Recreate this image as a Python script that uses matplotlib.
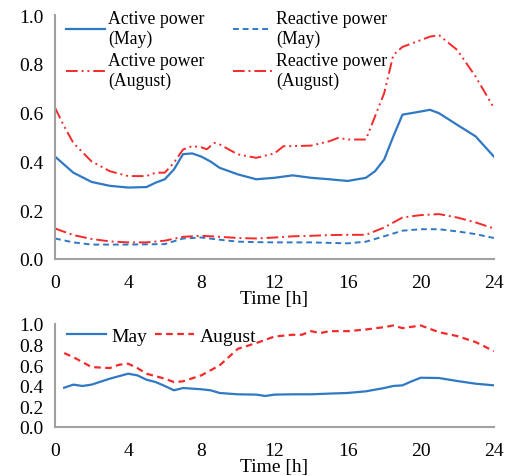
import matplotlib.pyplot as plt

plt.rcParams['font.family'] = ['Liberation Serif', 'DejaVu Serif']
plt.rcParams['font.size'] = 11.5

BLUE = '#2f78c4'
RED = '#f42a2a'

# top panel: active / reactive power
t_am = [0, 1, 2, 3, 4, 5, 5.5, 6, 6.5, 7, 7.5, 8, 8.5, 9, 10, 11, 12, 13, 14, 15, 16,
        17, 17.5, 18, 18.5, 19, 20, 20.5, 21, 22, 23, 24]
p_may = [0.42, 0.354, 0.316, 0.30, 0.293, 0.295, 0.313, 0.327, 0.367, 0.43, 0.433, 0.42,
         0.40, 0.374, 0.347, 0.327, 0.333, 0.343, 0.333, 0.327, 0.32, 0.333, 0.36, 0.408,
         0.503, 0.592, 0.605, 0.612, 0.598, 0.55, 0.503, 0.42]

t_aa = [0, 0.5, 1, 2, 3, 4, 5, 5.5, 6, 6.5, 7, 7.5, 8, 8.3, 8.7, 9, 10, 11, 12, 12.5, 13,
        14, 15, 15.5, 16, 17, 17.5, 18, 18.5, 19, 20, 20.5, 21, 22, 23, 24]
p_aug = [0.62, 0.544, 0.476, 0.40, 0.36, 0.34, 0.34, 0.354, 0.354, 0.395, 0.449, 0.463,
         0.458, 0.45, 0.476, 0.47, 0.429, 0.415, 0.433, 0.463, 0.463, 0.465, 0.483, 0.497,
         0.49, 0.49, 0.585, 0.68, 0.837, 0.87, 0.898, 0.912, 0.918, 0.857, 0.748, 0.62]

t_r = [0, 1, 2, 3, 4, 5, 6, 7, 8, 9, 10, 11, 12, 13, 14, 15, 16, 17, 18, 19, 20, 21, 22, 23, 24]
q_may = [0.084, 0.068, 0.059, 0.059, 0.059, 0.060, 0.061, 0.084, 0.088, 0.079, 0.071, 0.069,
         0.068, 0.068, 0.068, 0.066, 0.064, 0.071, 0.093, 0.116, 0.122, 0.122, 0.113, 0.102, 0.086]
q_aug = [0.125, 0.098, 0.082, 0.072, 0.068, 0.068, 0.075, 0.091, 0.095, 0.091, 0.086, 0.084,
         0.088, 0.093, 0.095, 0.098, 0.099, 0.099, 0.129, 0.17, 0.18, 0.184, 0.17, 0.15, 0.125]

# bottom panel
t_b = [0.5, 1, 1.5, 2, 3, 4, 4.5, 5, 5.5, 6, 6.5, 7, 8, 8.5, 9, 10, 11, 11.5, 12, 13, 14,
       15, 16, 17, 18, 18.5, 19, 19.5, 20, 21, 22, 23, 24]
b_may = [0.38, 0.41, 0.397, 0.41, 0.468, 0.516, 0.50, 0.458, 0.435, 0.397, 0.355, 0.377,
         0.365, 0.355, 0.329, 0.316, 0.313, 0.30, 0.313, 0.316, 0.316, 0.323, 0.329, 0.345,
         0.377, 0.397, 0.403, 0.442, 0.477, 0.474, 0.445, 0.419, 0.403]
t_b2 = [0.5, 1, 2, 3, 3.5, 4, 4.5, 5, 6, 6.5, 7, 8, 9, 10, 11, 12, 13, 13.5, 14, 14.5, 15,
        16, 17, 18, 18.5, 19, 20, 21, 22, 23, 24]
b_aug = [0.716, 0.677, 0.58, 0.571, 0.603, 0.613, 0.571, 0.516, 0.468, 0.435, 0.442, 0.50,
         0.597, 0.758, 0.813, 0.877, 0.894, 0.894, 0.929, 0.91, 0.929, 0.929, 0.945, 0.968,
         0.984, 0.958, 0.984, 0.919, 0.881, 0.823, 0.735]

fig = plt.figure(figsize=(5.05, 4.77), dpi=100)
ax1 = fig.add_axes([0.109, 0.455, 0.869, 0.511])
ax2 = fig.add_axes([0.109, 0.103, 0.869, 0.216])

# order chosen so the 2-column legend reads row by row like the original
ax1.plot(t_am, p_may, color=BLUE, lw=1.6, label='Active power\n(May)')
ax1.plot(t_aa, p_aug, color=RED, lw=1.4, ls=(0, (6, 2, 1, 2, 1, 2)), label='Active power\n(August)')
ax1.plot(t_r, q_may, color=BLUE, lw=1.4, ls=(0, (3, 2)), label='Reactive power\n(May)')
ax1.plot(t_r, q_aug, color=RED, lw=1.4, ls=(0, (6, 2, 1, 2)), label='Reactive power\n(August)')

ax2.plot(t_b, b_may, color=BLUE, lw=1.6, label='May')
ax2.plot(t_b2, b_aug, color=RED, lw=1.6, ls=(0, (3, 2)), label='August')

for ax in (ax1, ax2):
    ax.set_xlim(0, 24)
    ax.set_ylim(0, 1.0)
    ax.set_xticks(range(0, 25, 4))
    ax.set_yticks([0, 0.2, 0.4, 0.6, 0.8, 1.0])
    ax.yaxis.set_major_formatter(plt.FormatStrFormatter('%.1f'))
    for s in ('top', 'right'):
        ax.spines[s].set_visible(False)
    for s in ('left', 'bottom'):
        ax.spines[s].set_color('#a0a0a0')
        ax.spines[s].set_linewidth(1.5)
    ax.tick_params(length=0, pad=8, labelsize=14)
    ax.tick_params(axis='x', pad=11)

ax1.set_xlabel('Time [h]', fontsize=14, labelpad=-1)
ax2.set_xlabel('Time [h]', fontsize=14, labelpad=-1)

ax1.legend(ncol=2, loc='upper left', bbox_to_anchor=(0.0, 1.065), frameon=False,
           fontsize=12.8, handlelength=2.2, handletextpad=0.2, columnspacing=1.6,
           labelspacing=0.3, borderaxespad=0.2)
ax2.legend(ncol=2, loc='upper left', bbox_to_anchor=(0.0, 1.08), frameon=False,
           fontsize=14, handlelength=2.0, handletextpad=0.3, columnspacing=0.4,
           borderaxespad=0.2)

fig.savefig('out.png', dpi=100)
